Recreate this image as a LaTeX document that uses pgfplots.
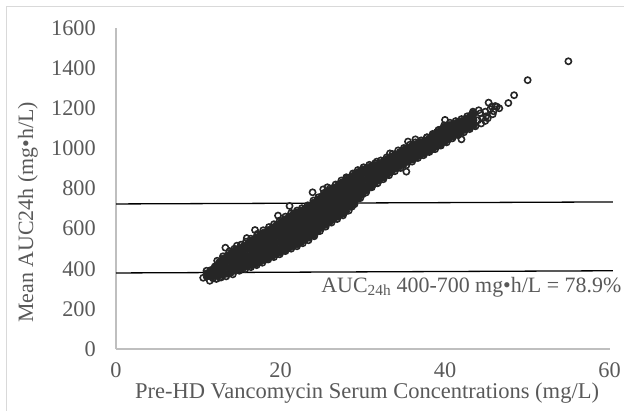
\documentclass[border=0pt]{standalone}
\usepackage{fontspec}
\setmainfont{Liberation Serif}
\usepackage{pgfplots}
\pgfplotsset{compat=1.18}
\definecolor{txt}{HTML}{595959}
\definecolor{axgray}{HTML}{BFBFBF}
\definecolor{pt}{HTML}{262626}
\definecolor{frm}{HTML}{D9D9D9}
\begin{document}
\begin{tikzpicture}[x=1bp,y=1bp]
\path[use as bounding box] (0,0) rectangle (624,410);
\draw[frm, line width=1bp] (6,-5) -- (6,403) -- (630,403);
\begin{axis}[at={(116bp,61bp)}, anchor=south west, scale only axis,
 width=493.5bp, height=321bp,
 xmin=0, xmax=60, ymin=0, ymax=1600,
 axis x line*=bottom, axis y line*=left,
 axis line style={draw=axgray, line width=1.3bp, -},
 xtick={0,20,40,60}, ytick={0,200,...,1600},
 major tick length=0pt,
 /pgf/number format/assume math mode=true,
 /pgf/number format/1000 sep={},
 tick label style={font=\fontsize{22.4}{26}\selectfont, text=txt, inner sep=0pt},
 xticklabel style={anchor=center, yshift=-21bp},
 yticklabel style={anchor=east, xshift=-20bp},
 xlabel={Pre-HD Vancomycin Serum Concentrations (mg/L)},
 ylabel={Mean AUC24h (mg•h/L)},
 every axis x label/.style={at={(axis description cs:0.5086,-0.137)}, anchor=center, font=\fontsize{22.6}{26}\selectfont, text=txt},
 every axis y label/.style={at={(axis description cs:-0.1783,0.4252)}, anchor=center, rotate=90, font=\fontsize{22}{26}\selectfont, text=txt},
 clip=false,
]
% dense core of the cloud
\addplot[only marks, mark=*, mark size=3.3bp, mark options={draw=pt, fill=pt, line width=0.8bp}] coordinates {
(11.0,360)(11.0,378)
(11.5,360)(11.5,378)(11.5,394)
(12.0,363)(12.0,388)(12.0,412)
(12.5,365)(12.5,387)(12.5,410)(12.5,432)
(13.0,368)(13.0,396)(13.0,424)(13.0,452)
(13.5,374)(13.5,405)(13.5,436)(13.5,467)
(14.0,380)(14.0,405)(14.0,431)(14.0,456)(14.0,482)
(14.5,389)(14.5,415)(14.5,441)(14.5,467)(14.5,493)
(15.0,398)(15.0,424)(15.0,451)(15.0,477)(15.0,504)
(15.5,404)(15.5,432)(15.5,460)(15.5,487)(15.5,515)
(16.0,410)(16.0,439)(16.0,468)(16.0,498)(16.0,527)
(16.5,417)(16.5,442)(16.5,467)(16.5,492)(16.5,517)(16.5,542)
(17.0,424)(17.0,451)(17.0,477)(17.0,504)(17.0,530)(17.0,557)
(17.5,433)(17.5,460)(17.5,488)(17.5,515)(17.5,543)(17.5,570)
(18.0,442)(18.0,470)(18.0,498)(18.0,526)(18.0,554)(18.0,582)
(18.5,451)(18.5,480)(18.5,508)(18.5,537)(18.5,565)(18.5,594)
(19.0,461)(19.0,490)(19.0,519)(19.0,549)(19.0,578)(19.0,607)
(19.5,470)(19.5,500)(19.5,530)(19.5,559)(19.5,589)(19.5,619)
(20.0,480)(20.0,505)(20.0,531)(20.0,556)(20.0,581)(20.0,607)(20.0,632)
(20.5,490)(20.5,516)(20.5,542)(20.5,569)(20.5,595)(20.5,621)(20.5,647)
(21.0,501)(21.0,528)(21.0,555)(21.0,582)(21.0,608)(21.0,635)(21.0,662)
(21.5,510)(21.5,537)(21.5,564)(21.5,591)(21.5,618)(21.5,645)(21.5,672)
(22.0,520)(22.0,547)(22.0,574)(22.0,601)(22.0,628)(22.0,655)(22.0,682)
(22.5,531)(22.5,558)(22.5,585)(22.5,612)(22.5,638)(22.5,665)(22.5,692)
(23.0,542)(23.0,569)(23.0,595)(23.0,622)(23.0,649)(23.0,675)(23.0,702)
(23.5,554)(23.5,581)(23.5,608)(23.5,635)(23.5,662)(23.5,689)(23.5,716)
(24.0,566)(24.0,593)(24.0,621)(24.0,648)(24.0,675)(24.0,703)(24.0,730)
(24.5,584)(24.5,611)(24.5,638)(24.5,665)(24.5,692)(24.5,719)(24.5,746)
(25.0,603)(25.0,630)(25.0,656)(25.0,683)(25.0,709)(25.0,736)(25.0,762)
(25.5,618)(25.5,645)(25.5,671)(25.5,698)(25.5,724)(25.5,751)(25.5,777)
(26.0,633)(26.0,660)(26.0,686)(26.0,713)(26.0,739)(26.0,766)(26.0,792)
(26.5,646)(26.5,673)(26.5,699)(26.5,726)(26.5,753)(26.5,779)(26.5,806)
(27.0,658)(27.0,685)(27.0,712)(27.0,739)(27.0,766)(27.0,793)(27.0,820)
(27.5,672)(27.5,699)(27.5,725)(27.5,752)(27.5,779)(27.5,805)(27.5,832)
(28.0,686)(28.0,712)(28.0,739)(28.0,765)(28.0,791)(28.0,818)(28.0,844)
(28.5,708)(28.5,733)(28.5,758)(28.5,783)(28.5,808)(28.5,833)(28.5,858)
(29.0,730)(29.0,758)(29.0,787)(29.0,815)(29.0,844)(29.0,872)
(29.5,750)(29.5,777)(29.5,804)(29.5,830)(29.5,857)(29.5,884)
(30.0,770)(30.0,795)(30.0,821)(30.0,846)(30.0,872)(30.0,897)
(30.5,789)(30.5,818)(30.5,846)(30.5,875)(30.5,904)
(31.0,808)(31.0,834)(31.0,860)(31.0,886)(31.0,912)
(31.5,824)(31.5,848)(31.5,871)(31.5,895)(31.5,918)
(32.0,840)(32.0,868)(32.0,896)(32.0,924)
(32.5,854)(32.5,882)(32.5,909)(32.5,937)
(33.0,868)(33.0,895)(33.0,922)(33.0,949)
(33.5,883)(33.5,909)(33.5,934)(33.5,960)
(34.0,898)(34.0,923)(34.0,947)(34.0,972)
(34.5,909)(34.5,934)(34.5,958)(34.5,983)
(35.0,921)(35.0,945)(35.0,970)(35.0,994)
(35.5,932)(35.5,956)(35.5,980)(35.5,1004)
(36.0,943)(36.0,967)(36.0,990)(36.0,1014)
(36.5,953)(36.5,976)(36.5,1000)(36.5,1023)
(37.0,963)(37.0,986)(37.0,1009)(37.0,1032)
(37.5,973)(37.5,995)(37.5,1018)(37.5,1040)
(38.0,983)(38.0,1005)(38.0,1027)(38.0,1049)
(38.5,995)(38.5,1018)(38.5,1042)(38.5,1065)
(39.0,1008)(39.0,1033)(39.0,1057)(39.0,1082)
(39.5,1020)(39.5,1045)(39.5,1071)(39.5,1096)
(40.0,1033)(40.0,1059)(40.0,1084)(40.0,1110)
(40.5,1045)(40.5,1069)(40.5,1093)(40.5,1117)
(41.0,1058)(41.0,1080)(41.0,1102)(41.0,1124)
(41.5,1069)(41.5,1089)(41.5,1110)(41.5,1130)
(42.0,1081)(42.0,1109)(42.0,1137)
(42.5,1092)(42.5,1120)(42.5,1148)
(43.0,1103)(43.0,1131)(43.0,1160)
(43.5,1113)(43.5,1141)(43.5,1170)
};
% edge and sparse points (open circles)
\addplot[only marks, mark=o, mark size=3.1bp, mark options={draw=pt, line width=1.6bp}] coordinates {
(12.3,440)(13.0,462)(13.8,488)(14.4,500)(15.2,520)(15.8,535)(16.4,550)(17.2,574)(17.9,592)(18.6,608)
(19.2,622)(19.9,640)(20.6,660)(21.3,678)(22.0,690)(22.6,702)(23.3,716)(24.0,740)(24.6,756)(25.3,778)
(26.0,800)(26.7,820)(27.4,840)(28.1,852)(28.8,875)(29.4,892)(30.1,906)(30.8,918)(31.5,926)(32.2,940)
(32.9,955)(33.6,972)(34.3,990)(35.0,1002)(35.7,1018)(36.4,1030)(37.1,1040)(37.8,1055)(38.5,1072)(39.2,1092)
(39.9,1115)(40.6,1128)(41.3,1136)(42.0,1146)(42.7,1160)(43.4,1176)(44.1,1190)
(11.8,352)(12.6,356)(13.4,362)(14.2,372)(15.0,390)(15.7,398)(16.4,408)(17.1,418)(17.8,430)(18.5,446)
(19.2,458)(19.9,472)(20.6,488)(21.3,500)(22.0,512)(22.7,527)(23.4,542)(24.1,562)(24.8,588)(25.5,610)
(26.2,630)(26.9,648)(27.6,666)(28.3,690)(29.0,722)(29.7,752)(30.4,780)(31.1,806)(31.8,826)(32.5,846)
(33.2,866)(33.9,886)(34.6,902)(35.3,916)(36.0,934)(36.7,952)(37.4,966)(38.1,982)(38.8,996)(39.5,1014)
(40.2,1030)(40.9,1050)(41.6,1066)(42.3,1080)(43.0,1096)(43.7,1110)(44.4,1124)
(44.0,1140)(44.5,1150)(44.3,1175)(44.9,1137)(44.9,1183)(45.0,1160)(45.3,1228)(45.5,1195)(45.7,1208)
(46.1,1211)(46.3,1208)(45.9,1185)(46.6,1200)(43.2,1166)(43.4,1183)(45.2,1150)(45.8,1170)
(47.7,1226)(48.4,1265)(50.05,1340)(55.0,1434)(42.0,1045)(40.0,1142)(35.5,1034)(36.4,1045)(37.8,1055)
(33.3,975)(31.7,934)(28.0,856)(25.7,806)(25.2,796)(23.9,781)(21.1,713)(19.7,665)(16.9,593)(15.9,553)
(14.7,515)(13.3,505)(11.0,390)(10.6,355)(11.4,340)(12.2,349)(12.8,357)(28.7,710)(35.3,884)
};
% target range lines
\addplot[black, line width=1.3bp] coordinates {(0,723)(60.4,733)};
\addplot[black, line width=1.3bp] coordinates {(0,379)(60.4,390)};
\node[anchor=base west, inner sep=0pt, font=\fontsize{22}{26}\selectfont, text=txt] at (axis cs:24.95,284) {AUC\textsubscript{24h} 400-700 mg•h/L = 78.9\%};
\end{axis}
\end{tikzpicture}
\end{document}
